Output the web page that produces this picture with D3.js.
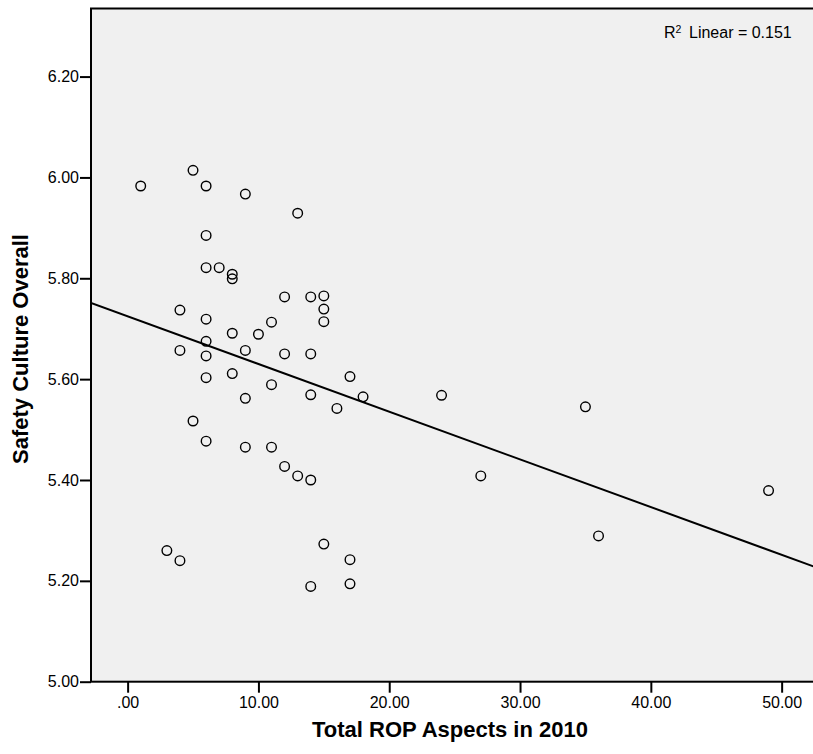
<!DOCTYPE html>
<html>
<head>
<meta charset="utf-8">
<script src="https://d3js.org/d3.v7.min.js"></script>
<style>
    body { margin: 0; background: #fff; }
    text { font-family: "Liberation Sans", Arial, sans-serif; fill: #000; }
</style>
</head>
<body>
<div id="chart"></div>
<script>
// Total ROP aspects in 2010 (x) and safety culture overall (y), one entry per site
const ropAspects = [
    1, 5, 6, 9, 13, 6, 6, 7, 8, 8,
    4, 12, 14, 15, 15, 15, 6, 11, 8, 10,
    6, 4, 9, 6, 12, 14, 17, 6, 8, 11,
    9, 14, 16, 18, 5, 6, 9, 11, 12, 13,
    14, 3, 4, 15, 17, 14, 17, 24, 35, 27,
    36, 49
];
const safetyCulture = [
    5.983, 6.014, 5.983, 5.967, 5.929, 5.885, 5.821, 5.821, 5.808, 5.799,
    5.737, 5.763, 5.763, 5.765, 5.739, 5.714, 5.719, 5.713, 5.691, 5.689,
    5.675, 5.657, 5.657, 5.646, 5.650, 5.650, 5.605, 5.603, 5.611, 5.589,
    5.562, 5.569, 5.542, 5.565, 5.517, 5.477, 5.465, 5.465, 5.427, 5.408,
    5.400, 5.260, 5.240, 5.273, 5.242, 5.189, 5.194, 5.568, 5.545, 5.408,
    5.289, 5.379
];
const xTicks = [0, 10, 20, 30, 40, 50];
const yTicks = [5.0, 5.2, 5.4, 5.6, 5.8, 6.0, 6.2];
const xTitle = "Total ROP Aspects in 2010";
const yTitle = "Safety Culture Overall";
const r2Value = "0.151";

class ScatterFit {
    constructor(parentElement) {
        this.parentElement = parentElement;
        this.data = ropAspects.map((x, i) => ({ x: x, y: safetyCulture[i] }));
        this.initVis();
    }

    initVis() {
        let vis = this;

        vis.width = 813;
        vis.height = 754;
        vis.plot = { left: 91, right: 815, top: 8.5, bottom: 681.7 };

        vis.svg = d3.select("#" + vis.parentElement)
            .append("svg")
            .attr("width", vis.width)
            .attr("height", vis.height);

        vis.x = d3.scaleLinear().domain([-2.8, 52.55]).range([vis.plot.left, vis.plot.right]);
        vis.y = d3.scaleLinear().domain([5.0, 6.335]).range([vis.plot.bottom, vis.plot.top]);

        // plot background + frame
        vis.svg.append("rect")
            .attr("x", vis.plot.left)
            .attr("y", vis.plot.top)
            .attr("width", vis.plot.right - vis.plot.left)
            .attr("height", vis.plot.bottom - vis.plot.top)
            .attr("fill", "#f0f0f0")
            .attr("stroke", "#000")
            .attr("stroke-width", 2);

        vis.svg.append("clipPath").attr("id", "plotClip")
            .append("rect")
            .attr("x", vis.plot.left)
            .attr("y", vis.plot.top)
            .attr("width", vis.plot.right - vis.plot.left)
            .attr("height", vis.plot.bottom - vis.plot.top);

        // axes
        let xAxis = d3.axisBottom(vis.x)
            .tickValues(xTicks)
            .tickSize(11)
            .tickPadding(4)
            .tickFormat(d => d3.format(".2f")(d).replace(/^0/, ""));

        let yAxis = d3.axisLeft(vis.y)
            .tickValues(yTicks)
            .tickSize(11)
            .tickPadding(1)
            .tickFormat(d3.format(".2f"));

        let gx = vis.svg.append("g")
            .attr("transform", `translate(0, ${vis.plot.bottom})`)
            .call(xAxis);
        let gy = vis.svg.append("g")
            .attr("transform", `translate(${vis.plot.left}, 0)`)
            .call(yAxis);

        [gx, gy].forEach(g => {
            g.select(".domain").remove();
            g.selectAll(".tick line").attr("stroke", "#000").attr("stroke-width", 2);
            g.selectAll(".tick text")
                .style("font-family", "'Liberation Sans', Arial, sans-serif")
                .style("font-size", "16px")
                .attr("fill", "#000");
        });

        // axis titles
        vis.svg.append("text")
            .attr("x", 450)
            .attr("y", 737)
            .attr("text-anchor", "middle")
            .style("font-size", "22px")
            .style("font-weight", "bold")
            .text(xTitle);

        vis.svg.append("text")
            .attr("transform", "translate(28, 349) rotate(-90)")
            .attr("text-anchor", "middle")
            .style("font-size", "22px")
            .style("font-weight", "bold")
            .text(yTitle);

        // R squared label
        let r2 = vis.svg.append("text")
            .attr("x", 664)
            .attr("y", 37.7)
            .style("font-size", "16px");
        r2.append("tspan").text("R");
        r2.append("tspan").attr("dy", -5).style("font-size", "10.5px").text("2");
        r2.append("tspan").attr("x", 689).attr("dy", 5).text("Linear = " + r2Value);

        vis.updateVis();
    }

    updateVis() {
        let vis = this;

        // least squares fit line
        let mx = d3.mean(vis.data, d => d.x);
        let my = d3.mean(vis.data, d => d.y);
        let sxy = d3.sum(vis.data, d => (d.x - mx) * (d.y - my));
        let sxx = d3.sum(vis.data, d => (d.x - mx) * (d.x - mx));
        let slope = sxy / sxx;
        let intercept = my - slope * mx;
        let xd = vis.x.domain();

        vis.svg.append("line")
            .attr("clip-path", "url(#plotClip)")
            .attr("x1", vis.x(xd[0]))
            .attr("y1", vis.y(intercept + slope * xd[0]))
            .attr("x2", vis.x(xd[1]))
            .attr("y2", vis.y(intercept + slope * xd[1]))
            .attr("stroke", "#000")
            .attr("stroke-width", 2);

        vis.svg.append("g")
            .selectAll("circle")
            .data(vis.data)
            .join("circle")
            .attr("cx", d => vis.x(d.x))
            .attr("cy", d => vis.y(d.y))
            .attr("r", 4.8)
            .attr("fill", "none")
            .attr("stroke", "#000")
            .attr("stroke-width", 1.4);
    }
}

new ScatterFit("chart");
</script>
</body>
</html>
